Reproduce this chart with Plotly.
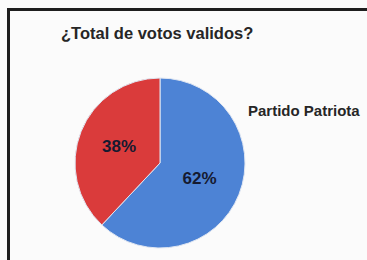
import plotly.graph_objects as go

labels = ["Partido Patriota", "Otros"]
values = [62, 38]
colors = ["#4d83d5", "#da3b3b"]
title_text = "¿Total de votos validos?"

W, H = 367, 260
FONT = "Liberation Sans, Arial, sans-serif"

fig = go.Figure(go.Pie(
    labels=labels,
    values=values,
    sort=False,
    direction="clockwise",
    rotation=0,
    marker=dict(colors=colors, line=dict(color="#dfe6f2", width=1)),
    textinfo="percent",
    texttemplate="<b>%{percent:.0%}</b>",
    textposition="inside",
    insidetextorientation="horizontal",
    textfont=dict(family=FONT, size=17, color="#151a30"),
    showlegend=False,
    hoverinfo="label+percent",
    domain=dict(x=[75 / W, 245 / W], y=[1 - 248 / H, 1 - 78 / H]),
))

fig.update_layout(
    width=W, height=H,
    margin=dict(l=0, r=0, t=0, b=0),
    paper_bgcolor="#fbfbfb",
    plot_bgcolor="#fbfbfb",
    shapes=[
        dict(type="line", xref="paper", yref="paper", x0=7 / W, x1=1, y0=1 - 9.5 / H, y1=1 - 9.5 / H,
             line=dict(color="#1e1e1e", width=3)),
        dict(type="line", xref="paper", yref="paper", x0=8.5 / W, x1=8.5 / W, y0=0, y1=1 - 8 / H,
             line=dict(color="#1e1e1e", width=3)),
    ],
    annotations=[
        dict(text="<b>" + title_text + "</b>", xref="paper", yref="paper",
             x=59 / W, y=1 - 33 / H, xanchor="left", yanchor="middle", showarrow=False,
             font=dict(family=FONT, size=16.5, color="#262626")),
        dict(text="<b>" + labels[0] + "</b>", xref="paper", yref="paper",
             x=246 / W, y=1 - 110 / H, xanchor="left", yanchor="middle", showarrow=False,
             font=dict(family=FONT, size=15, color="#262626")),
    ],
)

fig.write_html(
    "out.html",
    config={"displayModeBar": False},
    post_script="document.body.style.margin='0';document.body.style.overflow='hidden';",
)
